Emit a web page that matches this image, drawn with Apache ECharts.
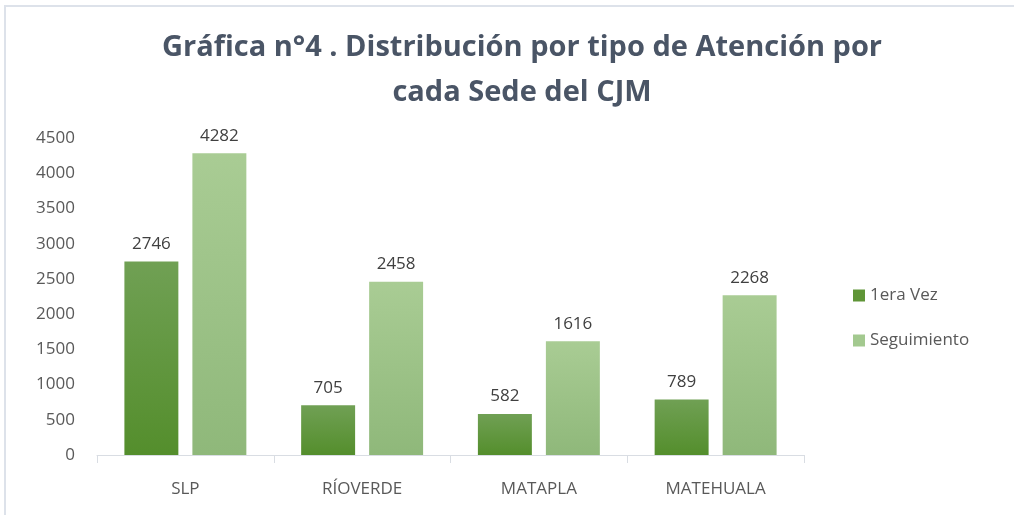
<!DOCTYPE html>
<html>
<head>
<meta charset="utf-8">
<style>
  html, body { margin: 0; padding: 0; background: #fff; }
  #main { position: absolute; left: 4px; top: 5px; width: 1010px; height: 510px;
          border-left: 2px solid #dde2ea; border-top: 2px solid #dde2ea; box-sizing: border-box; }
</style>
<script src="https://cdn.jsdelivr.net/npm/echarts@6/dist/echarts.min.js"></script>
</head>
<body>
<div id="main"></div>
<script>
// datos
var sedes = ['SLP', 'RÍOVERDE', 'MATAPLA', 'MATEHUALA'];
var primeraVez = [2746, 705, 582, 789];
var seguimiento = [4282, 2458, 1616, 2268];

var chart = echarts.init(document.getElementById('main'));

function grad (top, bottom) {
  return new echarts.graphic.LinearGradient(0, 0, 0, 1, [
    { offset: 0, color: top },
    { offset: 1, color: bottom }
  ]);
}

var fuente = '"Open Sans", "Noto Sans", sans-serif';

chart.setOption({
  animation: false,
  title: {
    text: 'Gráfica n°4 . Distribución por tipo de Atención por\ncada Sede del CJM',
    left: 511,
    textAlign: 'center',
    top: 13,
    textStyle: {
      fontFamily: fuente,
      fontWeight: 'bold',
      fontSize: 29,
      lineHeight: 45,
      color: '#4a5566'
    }
  },
  legend: {
    orient: 'vertical',
    left: 842,
    top: 275,
    itemWidth: 12,
    itemHeight: 12,
    itemGap: 28,
    icon: 'rect',
    textStyle: { fontFamily: fuente, fontSize: 17, color: '#595959' },
    data: [
      { name: '1era Vez', itemStyle: { color: '#5f9537' } },
      { name: 'Seguimiento', itemStyle: { color: '#a3c98f' } }
    ]
  },
  grid: { left: 91, right: 210, top: 131, bottom: 60, containLabel: false },
  xAxis: {
    type: 'category',
    data: sedes,
    axisLine: { lineStyle: { color: '#d9dde3', width: 1 } },
    axisTick: { show: true, length: 8, lineStyle: { color: '#d9dde3' } },
    axisLabel: { fontFamily: fuente, fontSize: 17, color: '#595959', margin: 26 }
  },
  yAxis: {
    type: 'value',
    min: 0,
    max: 4500,
    interval: 500,
    axisLine: { show: false },
    axisTick: { show: false },
    splitLine: { show: false },
    axisLabel: {
      fontFamily: fuente, fontSize: 17, color: '#595959', margin: 22,
      formatter: function (v) { return String(v); }
    }
  },
  series: [
    {
      name: '1era Vez',
      type: 'bar',
      data: primeraVez,
      barGap: '26%',
      barCategoryGap: '31%',
      itemStyle: { color: grad('#70a054', '#548e2c') },
      label: { show: true, position: 'top', distance: 9, fontFamily: fuente, fontSize: 17, color: '#404040' }
    },
    {
      name: 'Seguimiento',
      type: 'bar',
      data: seguimiento,
      itemStyle: { color: grad('#a9cc94', '#8fb87a') },
      label: { show: true, position: 'top', distance: 9, fontFamily: fuente, fontSize: 17, color: '#404040' }
    }
  ]
});
</script>
</body>
</html>
